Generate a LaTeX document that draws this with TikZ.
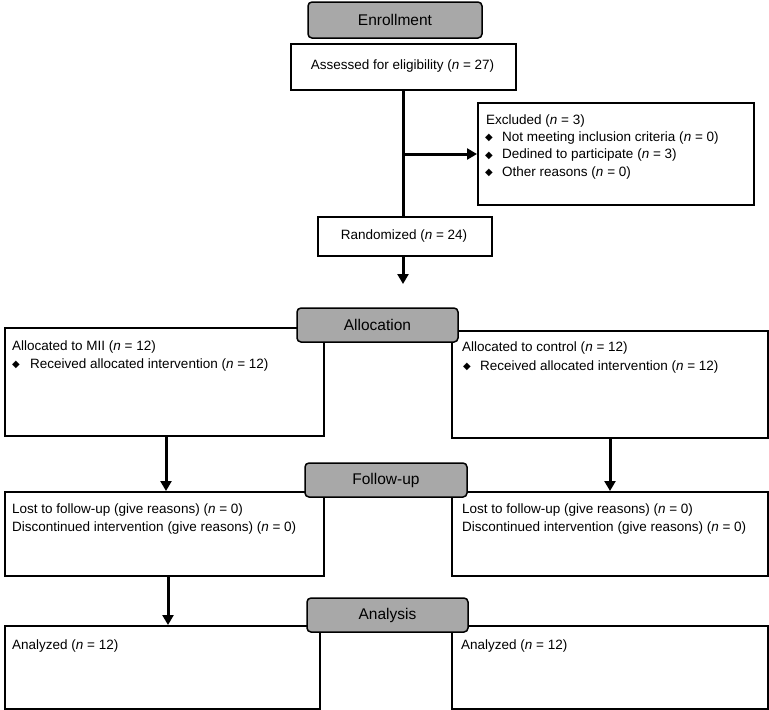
\documentclass[tikz,border=0pt]{standalone}
\usepackage{fontspec}
\setmainfont{Liberation Sans}
\newfontfamily\dejavu{DejaVu Sans}
\usetikzlibrary{arrows.meta}
\definecolor{hdrgray}{RGB}{168,168,168}
\newcommand{\nn}{\textit{n}}
\newcommand{\dmd}{{\dejavu\fontsize{10}{11}\selectfont ◆}}
\begin{document}
\begin{tikzpicture}[x=1pt,y=-1pt,
  box/.style={draw, line width=1.5pt, fill=white, inner sep=0pt, anchor=north west},
  hdr/.style={draw, line width=1.5pt, fill=hdrgray, rounded corners=4pt, inner sep=0pt,
    font=\fontsize{15.5}{18}\selectfont},
  txt/.style={anchor=west, inner sep=0pt, font=\fontsize{13.5}{15}\selectfont},
  bul/.style={anchor=center, inner sep=0pt},
  arr/.style={-{Triangle[length=10pt,width=11pt]}, line width=3pt},
  lnk/.style={line width=3pt}]
\useasboundingbox (0,0) rectangle (769,710);

% Enrollment
\node[box, minimum width=225pt, minimum height=46pt] (assess) at (290,43) {};
\node[txt, anchor=center] (assesst) at (402.5,66) {Assessed for eligibility (\nn{} = 27)};
\node[hdr, minimum width=174pt, minimum height=36pt] (enr) at (395,20) {Enrollment};

\node[box, minimum width=276pt, minimum height=102pt] (excl) at (477,102) {};
\node[txt] (ex0) at (486,121) {Excluded (\nn{} = 3)};
\node[bul] (b1) at (489,138) {\dmd};
\node[txt] (ex1) at (502,138) {Not meeting inclusion criteria (\nn{} = 0)};
\node[bul] (b2) at (489,155.5) {\dmd};
\node[txt] (ex2) at (502,155.5) {Dedined to participate (\nn{} = 3)};
\node[bul] (b3) at (489,173) {\dmd};
\node[txt] (ex3) at (502,173) {Other reasons (\nn{} = 0)};

\node[box, minimum width=174pt, minimum height=39pt] (rand) at (317,216) {};
\node[txt, anchor=center] (randt) at (404,236) {Randomized (\nn{} = 24)};

\coordinate (split) at (403,154);
\coordinate (randend) at (403,284);
\draw[lnk] (assess.south -| split) -- (rand.north -| split);
\draw[arr] (split) -- (excl.west |- split);
\draw[arr] (rand.south -| randend) -- (randend);

% Allocation
\node[box, minimum width=319pt, minimum height=108pt] (mii) at (4,327) {};
\node[txt] (mii0) at (12,347) {Allocated to MII (\nn{} = 12)};
\node[bul] (b4) at (16,365) {\dmd};
\node[txt] (mii1) at (30,365) {Received allocated intervention (\nn{} = 12)};

\node[box, minimum width=316pt, minimum height=107pt] (ctl) at (451,330) {};
\node[txt] (ctl0) at (462,348) {Allocated to control (\nn{} = 12)};
\node[bul] (b5) at (467,367) {\dmd};
\node[txt] (ctl1) at (480,367) {Received allocated intervention (\nn{} = 12)};

\node[hdr, minimum width=161pt, minimum height=34pt] (alloc) at (377.5,325) {Allocation};

% Follow-up
\node[box, minimum width=319pt, minimum height=84pt] (ful) at (4,491) {};
\node[txt] (ful0) at (12,510) {Lost to follow-up (give reasons) (\nn{} = 0)};
\node[txt] (ful1) at (12,528) {Discontinued intervention (give reasons) (\nn{} = 0)};

\node[box, minimum width=316pt, minimum height=84pt] (fur) at (451,491) {};
\node[txt] (fur0) at (462,510) {Lost to follow-up (give reasons) (\nn{} = 0)};
\node[txt] (fur1) at (462,528) {Discontinued intervention (give reasons) (\nn{} = 0)};

\node[hdr, minimum width=162pt, minimum height=34pt] (fu) at (386,480) {Follow-up};

% Analysis
\node[box, minimum width=315pt, minimum height=83pt] (anl) at (4,625) {};
\node[txt] (anl0) at (12,646) {Analyzed (\nn{} = 12)};
\node[box, minimum width=316pt, minimum height=83pt] (anr) at (451,625) {};
\node[txt] (anr0) at (461,646) {Analyzed (\nn{} = 12)};

\node[hdr, minimum width=161pt, minimum height=34pt] (an) at (387.5,615) {Analysis};

% arrows
\coordinate (xl1) at (166,0);
\coordinate (xr1) at (610,0);
\coordinate (xl2) at (168,0);
\draw[arr] (mii.south -| xl1) -- (ful.north -| xl1);
\draw[arr] (ctl.south -| xr1) -- (fur.north -| xr1);
\draw[arr] (ful.south -| xl2) -- (anl.north -| xl2);
\end{tikzpicture}
\end{document}
